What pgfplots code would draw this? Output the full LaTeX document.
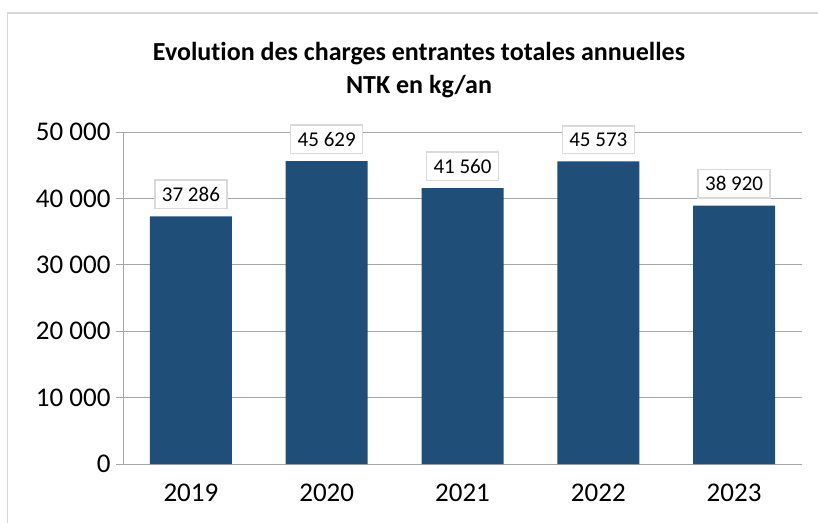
\documentclass[border=0pt]{standalone}
\usepackage{pgfplots}
\pgfplotsset{compat=1.18}
\usepackage{fontspec}
\setmainfont[Ligatures={NoCommon}]{Carlito}
\definecolor{barblue}{HTML}{1F4E78}
\definecolor{gridgray}{HTML}{A6A6A6}
\definecolor{framegray}{HTML}{D9D9D9}
\begin{document}
\begin{tikzpicture}[x=1pt,y=1pt]
\useasboundingbox (0,0) rectangle (818,522);
\fill[white] (0,0) rectangle (818,522);
\begin{scope}
\clip (0,0) rectangle (818,522);
\draw[framegray,line width=1.5pt] (7.5,-10) rectangle (830,509);
\end{scope}
\node[font=\fontsize{26}{33}\selectfont\bfseries,align=center] at (419,452) {Evolution des charges entrantes totales annuelles\\NTK en kg/an};
\begin{axis}[
  at={(123pt,58pt)}, anchor=south west,
  scale only axis, width=679pt, height=332pt,
  xmin=-0.5, xmax=4.5, ymin=0, ymax=50000,
  axis lines=left,
  axis line style={gridgray,line width=1pt,-},
  scaled y ticks=false,
  xtick={0,1,2,3,4},
  xticklabels={2019,2020,2021,2022,2023},
  x tick style={draw=none},
  extra x ticks={-0.5,0.5,1.5,2.5,3.5,4.5},
  extra x tick labels={},
  extra x tick style={grid=none, tick align=outside, major tick length=7pt, tick style={draw=gridgray,line width=1pt}},
  ytick={0,10000,20000,30000,40000,50000},
  yticklabels={0,10 000,20 000,30 000,40 000,50 000},
  ymajorgrids,
  grid style={gridgray,line width=1pt},
  y tick style={gridgray,line width=1pt},
  tick align=outside,
  major tick length=7pt,
  ticklabel style={font=\fontsize{27}{31}\selectfont},
  xticklabel style={yshift=-9pt},
  yticklabel style={xshift=-2pt},
  enlargelimits=false,
  clip=false,
]
\addplot[ybar, bar width=82pt, fill=barblue, draw=none,
  point meta=explicit symbolic,
  nodes near coords,
  every node near coord/.style={anchor=south, yshift=7pt, fill=white, draw=framegray, line width=1.5pt, inner xsep=7pt, inner ysep=7pt, font=\fontsize{21}{25}\selectfont, text=black}]
  coordinates {(0,37286) [37 286] (1,45629) [45 629] (2,41560) [41 560] (3,45573) [45 573] (4,38920) [38 920]};
\end{axis}
\end{tikzpicture}
\end{document}
